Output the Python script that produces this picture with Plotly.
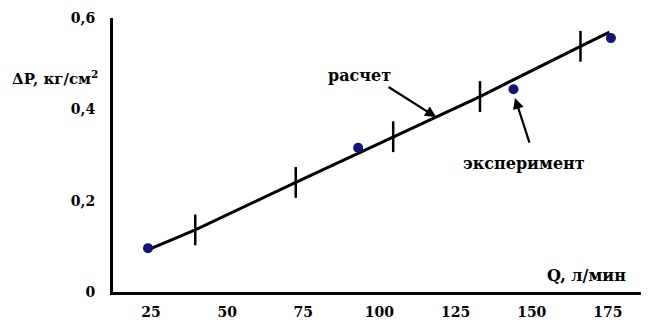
import plotly.graph_objects as go

# Calculated curve (расчет)
calc_q = [24.5, 39.5, 72.5, 104.5, 133, 166, 175.5]
calc_dp = [0.094, 0.136, 0.240, 0.340, 0.428, 0.538, 0.569]

# Experimental points (эксперимент)
exp_q = [24, 93, 144, 176]
exp_dp = [0.096, 0.316, 0.444, 0.556]

x_ticks = [25, 50, 75, 100, 125, 150, 175]
y_ticks = [0, 0.2, 0.4, 0.6]
y_tick_text = ["0", "0,2", "0,4", "0,6"]

FONT = "DejaVu Serif"

fig = go.Figure()

fig.add_trace(go.Scatter(
    x=calc_q, y=calc_dp, mode="lines",
    line=dict(color="black", width=3),
    showlegend=False, hoverinfo="skip"))

fig.add_trace(go.Scatter(
    x=calc_q[1:-1], y=calc_dp[1:-1], mode="markers",
    marker=dict(symbol="line-ns", size=22, line=dict(color="black", width=2.5)),
    showlegend=False, hoverinfo="skip"))

fig.add_trace(go.Scatter(
    x=exp_q, y=exp_dp, mode="markers",
    marker=dict(symbol="circle", size=10, color="#14147a"),
    showlegend=False, hoverinfo="skip"))

txt = dict(family=FONT, size=16, color="black")
txt_y = dict(family=FONT, size=15, color="black")

annotations = [
    dict(x=93.3, y=0.475, xref="x", yref="y", text="<b>расчет</b>", showarrow=False, font=txt),
    dict(x=118.6, y=0.383, ax=102.5, ay=0.451, xref="x", yref="y", axref="x", ayref="y",
         text="", showarrow=True, arrowhead=2, arrowsize=1, arrowwidth=2.2, arrowcolor="black"),
    dict(x=147.5, y=0.282, xref="x", yref="y", text="<b>эксперимент</b>", showarrow=False, font=txt),
    dict(x=144.5, y=0.425, ax=149.4, ay=0.324, xref="x", yref="y", axref="x", ayref="y",
         text="", showarrow=True, arrowhead=2, arrowsize=1, arrowwidth=2.2, arrowcolor="black"),
    dict(x=181.6, y=0.037, xref="x", yref="y", xanchor="right", text="<b>Q, л/мин</b>",
         showarrow=False, font=txt),
    dict(x=-0.193, y=0.468, xref="paper", yref="y", xanchor="left", yanchor="middle",
         text="<b>ΔP, кг/см<sup>2</sup></b>", showarrow=False, font=txt_y),
]

fig.update_layout(
    width=641, height=315,
    margin=dict(l=105, r=0, t=10, b=31),
    paper_bgcolor="white", plot_bgcolor="white",
    annotations=annotations,
    font=dict(family=FONT),
    xaxis=dict(range=[12.5, 188.5], tickvals=x_ticks,
               ticktext=[f"<b>{v}</b>" for v in x_ticks], showgrid=False, zeroline=False,
               showline=True, linecolor="black", linewidth=3,
               ticks="outside", ticklen=5, tickcolor="rgba(0,0,0,0)",
               tickfont=dict(family=FONT, size=14, color="black")),
    yaxis=dict(range=[0, 0.6], tickvals=y_ticks, ticktext=[f"<b>{t}</b>" for t in y_tick_text],
               showgrid=False,
               zeroline=False, showline=True, linecolor="black", linewidth=3,
               ticks="outside", ticklen=12, tickcolor="rgba(0,0,0,0)",
               tickfont=dict(family=FONT, size=14, color="black")),
)

fig.write_html("out.html")
